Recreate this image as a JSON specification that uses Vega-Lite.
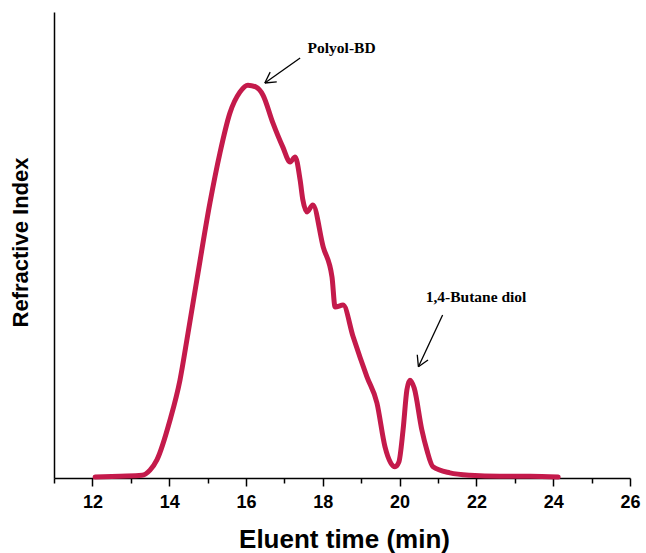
{
  "$schema": "https://vega.github.io/schema/vega-lite/v6.json",
  "width": 576,
  "height": 466,
  "autosize": {"type": "none"},
  "padding": {"left": 54, "top": 12, "right": 16, "bottom": 75},
  "background": "white",
  "config": {"view": {"stroke": null}},
  "resolve": {"axis": {"x": "independent"}},
  "datasets": {
    "curve": [
      {"t": 12.07, "v": 0.2}, {"t": 12.72, "v": 0.4}, {"t": 13.29, "v": 0.6},
      {"t": 13.5, "v": 1.7}, {"t": 13.68, "v": 3.9}, {"t": 14.02, "v": 12.4},
      {"t": 14.28, "v": 21.0}, {"t": 14.49, "v": 31.1}, {"t": 14.72, "v": 42.5},
      {"t": 15.06, "v": 59.0}, {"t": 15.32, "v": 69.7}, {"t": 15.58, "v": 78.3},
      {"t": 15.84, "v": 82.8}, {"t": 16.05, "v": 84.3}, {"t": 16.26, "v": 83.9},
      {"t": 16.44, "v": 82.2}, {"t": 16.7, "v": 76.2}, {"t": 16.96, "v": 71.0},
      {"t": 17.15, "v": 67.8}, {"t": 17.28, "v": 68.9}, {"t": 17.41, "v": 63.9},
      {"t": 17.48, "v": 59.7}, {"t": 17.59, "v": 57.1}, {"t": 17.74, "v": 58.6},
      {"t": 18.01, "v": 49.6}, {"t": 18.24, "v": 43.1}, {"t": 18.32, "v": 36.7},
      {"t": 18.53, "v": 37.1}, {"t": 18.79, "v": 30.3}, {"t": 19.15, "v": 21.7},
      {"t": 19.41, "v": 16.1}, {"t": 19.62, "v": 6.7}, {"t": 19.88, "v": 2.4},
      {"t": 19.98, "v": 3.4}, {"t": 20.09, "v": 10.3}, {"t": 20.19, "v": 18.9},
      {"t": 20.27, "v": 21.0}, {"t": 20.38, "v": 19.3}, {"t": 20.58, "v": 10.3},
      {"t": 20.71, "v": 6.0}, {"t": 20.87, "v": 2.4}, {"t": 21.31, "v": 1.1},
      {"t": 21.83, "v": 0.6}, {"t": 22.61, "v": 0.4}, {"t": 23.4, "v": 0.4},
      {"t": 24.13, "v": 0.2}
    ],
    "arrows": [
      {"x1": 17.41, "y1": 90.13, "x2": 16.49, "y2": 84.76},
      {"x1": 16.8, "y1": 85.0, "x2": 16.49, "y2": 84.76},
      {"x1": 16.63, "y1": 87.1, "x2": 16.49, "y2": 84.76},
      {"x1": 21.12, "y1": 34.98, "x2": 20.49, "y2": 23.88},
      {"x1": 20.74, "y1": 25.34, "x2": 20.49, "y2": 23.88},
      {"x1": 20.46, "y1": 26.46, "x2": 20.49, "y2": 23.88}
    ],
    "labels": [
      {"t": 18.49, "v": 92.3, "label": "Polyol-BD"},
      {"t": 21.99, "v": 38.8, "label": "1,4-Butane diol"}
    ]
  },
  "layer": [
    {
      "data": {"name": "curve"},
      "mark": {"type": "line", "color": "#C41A4B", "strokeWidth": 5, "interpolate": "monotone", "strokeCap": "round", "strokeJoin": "round"},
      "encoding": {
        "x": {
          "field": "t", "type": "quantitative",
          "scale": {"domain": [11, 26], "nice": false, "zero": false},
          "axis": {
            "orient": "bottom",
            "title": "Eluent time (min)",
            "values": [12, 14, 16, 18, 20, 22, 24, 26],
            "format": "d",
            "grid": false,
            "domainColor": "black", "domainWidth": 1.5,
            "tickColor": "black", "tickWidth": 1.5, "tickSize": 8,
            "labelFont": "Liberation Sans", "labelFontWeight": "bold", "labelFontSize": 18,
            "labelColor": "black", "labelPadding": 7, "labelFlush": false, "labelOverlap": false,
            "titleFont": "Liberation Sans", "titleFontWeight": "bold", "titleFontSize": 26,
            "titleColor": "black", "titleX": 290, "titleY": 61, "titleBaseline": "middle", "titleAlign": "center"
          }
        },
        "y": {
          "field": "v", "type": "quantitative",
          "scale": {"domain": [0, 100], "nice": false},
          "axis": {
            "title": "Refractive Index",
            "labels": false, "ticks": false, "grid": false,
            "domainColor": "black", "domainWidth": 1.5,
            "titleFont": "Liberation Sans", "titleFontWeight": "bold", "titleFontSize": 22,
            "titleColor": "black", "titleX": -34, "titleY": 230, "titleAngle": -90,
            "titleBaseline": "middle", "titleAlign": "center"
          }
        }
      }
    },
    {
      "data": {"name": "arrows"},
      "mark": {"type": "rule", "color": "black", "strokeWidth": 1.3},
      "encoding": {
        "x": {
          "field": "x1", "type": "quantitative",
          "axis": {
            "orient": "bottom", "title": null,
            "values": [11, 13, 15, 17, 19, 21, 23, 25],
            "labels": false, "domain": false, "grid": false,
            "tickColor": "black", "tickWidth": 1.5, "tickSize": 5
          }
        },
        "y": {"field": "y1", "type": "quantitative"},
        "x2": {"field": "x2"},
        "y2": {"field": "y2"}
      }
    },
    {
      "data": {"name": "labels"},
      "mark": {"type": "text", "font": "Liberation Serif", "fontWeight": "bold", "fontSize": 15.5, "color": "black", "align": "center", "baseline": "middle"},
      "encoding": {
        "x": {"field": "t", "type": "quantitative", "axis": null},
        "y": {"field": "v", "type": "quantitative"},
        "text": {"field": "label"}
      }
    }
  ]
}
